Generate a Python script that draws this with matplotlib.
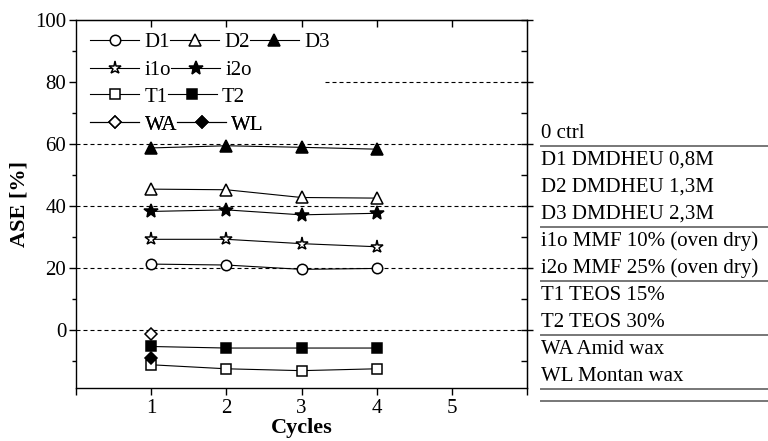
import matplotlib.pyplot as plt
from matplotlib.lines import Line2D

plt.rcParams['font.family'] = ['Liberation Serif', 'DejaVu Serif']
plt.rcParams['font.size'] = 15

cycles = [1, 2, 3, 4]

# ASE values [%]
d1 = [21.2, 20.9, 19.5, 19.8]
d2 = [45.4, 45.2, 42.7, 42.5]
d3 = [58.7, 59.4, 58.9, 58.3]
i1o = [29.2, 29.2, 27.8, 26.8]
i2o = [38.2, 38.7, 37.1, 37.6]
t1 = [-11.3, -12.6, -13.2, -12.6]
t2 = [-5.4, -5.9, -5.9, -5.9]
wa = [-1.3]
wl = [-9.2]

treatments = ["0 ctrl",
              "D1 DMDHEU 0,8M", "D2 DMDHEU 1,3M", "D3 DMDHEU 2,3M",
              "i1o MMF 10% (oven dry)", "i2o MMF 25% (oven dry)",
              "T1 TEOS 15%", "T2 TEOS 30%",
              "WA Amid wax", "WL Montan wax"]
group_ends = [0, 3, 5, 7, 9]

fig = plt.figure(figsize=(7.68, 4.41), dpi=100)
ax = fig.add_axes([76 / 768, 1 - 388 / 441, 451 / 768, 368 / 441])

# dashed reference lines
dash = (0, (3.6, 2.7))
for g in [0, 20, 40, 60]:
    ax.axhline(g, color='black', lw=0.8, linestyle=dash, zorder=1)
ax.axhline(80, xmin=0.552, color='black', lw=0.8, linestyle=dash, zorder=1)

def series(y, marker, filled, label, ms=8):
    fc = 'black' if filled else 'white'
    line, = ax.plot(cycles[:len(y)], y, color='black', lw=0.8, marker=marker,
                    ms=ms, mfc=fc, mec='black', mew=1.1, label=label, zorder=3)
    return line

h_d1 = series(d1, 'o', False, 'D1', 7.5)
h_d2 = series(d2, '^', False, 'D2', 8.5)
h_d3 = series(d3, '^', True, 'D3', 8.5)
h_i1o = series(i1o, '*', False, 'i1o', 9.5)
h_i2o = series(i2o, '*', True, 'i2o', 10)
h_t1 = series(t1, 's', False, 'T1', 7)
h_t2 = series(t2, 's', True, 'T2', 7)
h_wa = series(wa, 'D', False, 'WA', 6.5)
h_wl = series(wl, 'D', True, 'WL', 6.5)

rows = [[h_d1, h_d2, h_d3], [h_i1o, h_i2o], [h_t1, h_t2], [h_wa, h_wl]]
row_y = [0.940, 0.864, 0.791, 0.715]
for hs, yy in zip(rows, row_y):
    leg = ax.legend(handles=hs, loc='center left', bbox_to_anchor=(0.032, yy),
                    ncol=len(hs), frameon=False, borderpad=0, borderaxespad=0,
                    handlelength=2.35, handletextpad=0.25, columnspacing=0.0,
                    fontsize=15)
    ax.add_artist(leg)

ax.set_xlim(0, 6)
ax.set_ylim(-18.8, 100)
ax.set_xticks([0, 1, 2, 3, 4, 5, 6])
ax.set_xticklabels(['', '1', '2', '3', '4', '5', ''])
ax.set_yticks([0, 20, 40, 60, 80, 100])
ax.set_yticks([-10, 10, 30, 50, 70, 90], minor=True)

for s in ax.spines.values():
    s.set_linewidth(1.0)

ax.tick_params(axis='x', which='both', direction='out', length=5, width=1,
               top=False, labelsize=15, pad=3)
ax.tick_params(axis='y', which='major', direction='out', length=5, width=1,
               labelsize=15, pad=2)
ax.tick_params(axis='y', which='minor', direction='out', length=3, width=1)

# top and right axis ticks pointing inward
top = ax.secondary_xaxis('top')
top.set_xticks([1, 2, 3, 4, 5])
top.tick_params(direction='in', length=5, width=1, labeltop=False)
right = ax.secondary_yaxis('right')
right.set_yticks([0, 20, 40, 60, 80, 100])
right.set_yticks([-10, 10, 30, 50, 70, 90], minor=True)
right.tick_params(which='major', direction='inout', length=8, width=1, labelright=False)
right.tick_params(which='minor', direction='in', length=4, width=1)

ax.set_xlabel('Cycles', fontweight='bold', fontsize=16, labelpad=0)
ax.set_ylabel('ASE [%]', fontweight='bold', fontsize=16, labelpad=4)

# treatment key on the right
text_x = 541 / 768
y0, step = 133, 27.1
for i, name in enumerate(treatments):
    fig.text(text_x, 1 - (y0 + i * step) / 441, name, fontsize=15,
             ha='left', va='center')
for k in group_ends:
    yl = 1 - (y0 + k * step + 12.5) / 441
    fig.add_artist(Line2D([text_x, 1.0], [yl, yl], color='#777777', lw=1.4))
yl = 1 - (y0 + 9 * step + 24.5) / 441
fig.add_artist(Line2D([text_x, 1.0], [yl, yl], color='#777777', lw=1.4))

fig.savefig('out.png', dpi=100)
